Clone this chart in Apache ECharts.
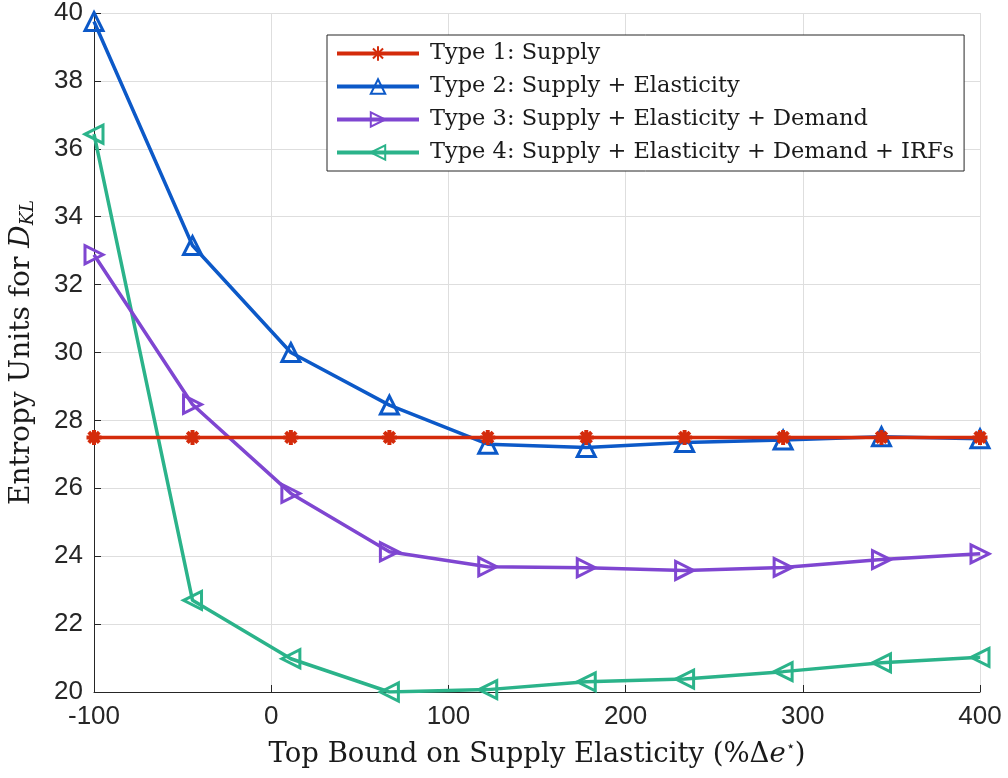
<!DOCTYPE html>
<html>
<head>
<meta charset="utf-8">
<title>Entropy Units vs Supply Elasticity Bound</title>
<script src="https://cdn.jsdelivr.net/npm/echarts@6/dist/echarts.min.js"></script>
<style>
  html, body { margin: 0; padding: 0; background: #fff; }
  #chart { width: 1008px; height: 778px; }
</style>
</head>
<body>
<div id="chart"></div>
<script>
// x positions: top bound on supply elasticity (%)
const bounds = [-100, -44.4, 11.1, 66.7, 122.2, 177.8, 233.3, 288.9, 344.4, 400];

const type1 = [27.5, 27.5, 27.5, 27.5, 27.5, 27.5, 27.5, 27.5, 27.5, 27.5];
const type2 = [39.75, 33.15, 30.0, 28.45, 27.3, 27.2, 27.35, 27.42, 27.52, 27.46];
const type3 = [32.88, 28.47, 25.85, 24.13, 23.69, 23.66, 23.58, 23.67, 23.9, 24.07];
const type4 = [36.43, 22.7, 20.98, 20.0, 20.07, 20.3, 20.38, 20.6, 20.86, 21.02];

const seriesNames = [
  'Type 1: Supply',
  'Type 2: Supply + Elasticity',
  'Type 3: Supply + Elasticity + Demand',
  'Type 4: Supply + Elasticity + Demand + IRFs'
];
const colors = ['#D42B0B', '#0C59C8', '#7F46D1', '#2BB38A'];

const serif = "'DejaVu Serif', 'Liberation Serif', serif";
const sans = "'Liberation Sans', Arial, sans-serif";
const ink = '#1a1a1a';

const asterisk = 'path://M0,-10L0,10M-10,0L10,0M-7,-7L7,7M-7,7L7,-7';

function pairs(vals) {
  return bounds.map((x, i) => [x, vals[i]]);
}

function makeSeries(i, vals, symbol, rotate, size) {
  const open = i > 0;
  return {
    name: seriesNames[i],
    type: 'line',
    data: pairs(vals),
    symbol: symbol,
    symbolSize: size,
    symbolRotate: rotate,
    showAllSymbol: true,
    lineStyle: { color: colors[i], width: 3.5 },
    itemStyle: {
      color: open ? 'rgba(0,0,0,0)' : colors[i],
      borderColor: colors[i],
      borderWidth: open ? 3 : 4
    },
    emphasis: { disabled: true },
    z: 10 - i
  };
}

let myChart = echarts.init(document.getElementById('chart'));

let option = {
  animation: false,
  backgroundColor: '#fff',
  grid: { left: 93, right: 28, top: 13, bottom: 86, containLabel: false },
  legend: {
    orient: 'vertical',
    left: 327,
    top: 35,
    padding: [7, 10, 7, 8],
    backgroundColor: '#fff',
    borderColor: '#262626',
    borderWidth: 1,
    itemWidth: 82,
    itemHeight: 18,
    itemGap: 10,
    selectedMode: false,
    lineStyle: { width: 4 },
    textStyle: { fontFamily: serif, fontSize: 22.5, lineHeight: 22, color: ink, padding: [0, 0, 0, 6] },
    data: seriesNames
  },
  xAxis: {
    type: 'value',
    min: -100,
    max: 400,
    interval: 100,
    name: '{a|Top Bound on Supply Elasticity (%Δ}{i|e}{s|⋆}{a|)}',
    nameLocation: 'middle',
    nameGap: 48,
    nameTextStyle: {
      fontFamily: serif,
      fontSize: 27.5,
      color: ink,
      rich: {
        a: { fontFamily: serif, fontSize: 27.5, color: ink },
        i: { fontFamily: serif, fontSize: 27.5, fontStyle: 'italic', color: ink },
        s: { fontFamily: serif, fontSize: 15, color: ink, padding: [0, 0, 14, 0] }
      }
    },
    axisLine: { show: true, onZero: false, lineStyle: { color: '#262626', width: 1 } },
    axisTick: { show: true, inside: true, length: 7, lineStyle: { color: '#262626' } },
    axisLabel: { fontFamily: sans, fontSize: 26, color: '#262626', margin: 12 },
    splitLine: { show: true, lineStyle: { color: '#dedede', width: 1 } }
  },
  yAxis: {
    type: 'value',
    min: 20,
    max: 40,
    interval: 2,
    name: '{a|Entropy Units for }{i|D}{s|KL}',
    nameLocation: 'middle',
    nameRotate: 90,
    nameGap: 57,
    nameTextStyle: {
      fontFamily: serif,
      fontSize: 28,
      color: ink,
      rich: {
        a: { fontFamily: serif, fontSize: 28, color: ink },
        i: { fontFamily: serif, fontSize: 28, fontStyle: 'italic', color: ink },
        s: { fontFamily: serif, fontSize: 18, fontStyle: 'italic', color: ink, padding: [12, 0, 0, 0] }
      }
    },
    axisLine: { show: true, onZero: false, lineStyle: { color: '#262626', width: 1 } },
    axisTick: { show: true, inside: true, length: 7, lineStyle: { color: '#262626' } },
    axisLabel: { fontFamily: sans, fontSize: 26, color: '#262626', margin: 11 },
    splitLine: { show: true, lineStyle: { color: '#dedede', width: 1 } }
  },
  series: [
    makeSeries(0, type1, asterisk, 0, 15),
    makeSeries(1, type2, 'triangle', 0, 18),
    makeSeries(2, type3, 'triangle', -90, 18),
    makeSeries(3, type4, 'triangle', 90, 18)
  ]
};

myChart.setOption(option);
window.onresize = myChart.resize;
</script>
</body>
</html>
